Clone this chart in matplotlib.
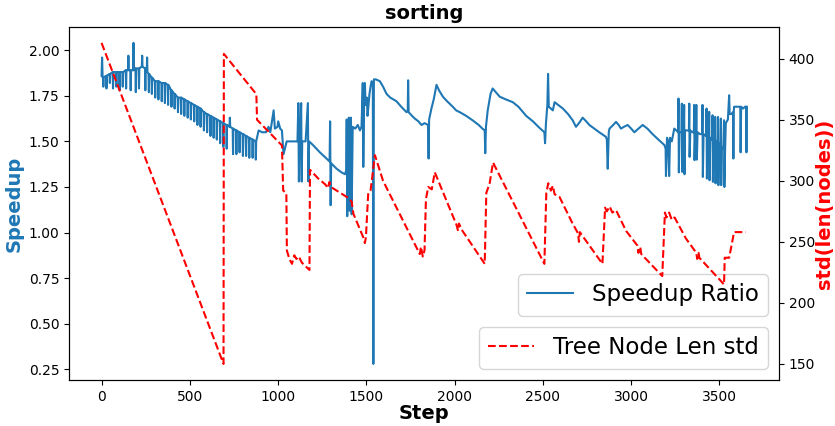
import matplotlib
matplotlib.use("Agg")
import matplotlib.pyplot as plt

# speedup ratio per step: a baseline with narrow spikes
speed_step = [0, 3, 6,
              8, 10, 12, 26, 28, 30, 45, 47, 49, 63, 65, 67, 82, 84, 86, 100, 102, 104,
              118, 120, 122, 137, 139, 141, 150, 152, 154, 163, 165, 167, 179, 181, 183,
              192, 194, 196, 210, 212, 214, 228, 230, 232, 246, 248, 250, 256, 258, 260,
              266, 268, 270, 283, 285, 287, 302, 304, 306, 320, 322, 324, 339, 341, 343,
              357, 359, 361, 375, 377, 379, 394, 396, 398, 412, 414, 416, 431, 433, 435,
              449, 451, 453, 467, 469, 471, 486, 488, 490, 504, 506, 508, 523, 525, 527,
              541, 543, 545, 559, 561, 563, 578, 580, 582, 596, 598, 600, 615, 617, 619,
              633, 635, 637, 651, 653, 655, 670, 672, 674, 688, 690, 692, 707, 709, 711,
              725, 727, 729, 743, 745, 747, 762, 764, 766, 780, 782, 784, 799, 801, 803,
              817, 819, 821, 835, 837, 839, 854, 856, 858, 872, 874, 876,
              890, 910, 931, 946, 956, 975, 982, 997, 1001, 1012, 1022, 1031, 1049, 1069, 1084,
              1110, 1115, 1118, 1123, 1131, 1134, 1137, 1156, 1169, 1172, 1176, 1198, 1237, 1276,
              1292, 1295, 1298, 1301, 1332, 1360, 1379,
              1386, 1389, 1392, 1397, 1401, 1405, 1409, 1413, 1417, 1423, 1437, 1452, 1464, 1473,
              1480, 1483, 1488, 1492, 1496, 1503, 1507, 1511, 1518, 1524, 1530, 1537, 1540, 1543,
              1554, 1577, 1595, 1615, 1636, 1671, 1698, 1728, 1735, 1737, 1740, 1759, 1775, 1795,
              1813, 1830, 1850, 1853, 1856, 1869, 1882, 1898, 1912, 1934, 1958, 1990, 2009, 2030,
              2066, 2103, 2137, 2158, 2171, 2174, 2178, 2188, 2204, 2216, 2234,
              2256, 2291, 2330, 2362, 2406, 2444, 2475, 2509, 2513, 2518, 2526, 2530, 2534, 2546,
              2557, 2567, 2587, 2614, 2643, 2670, 2688, 2705, 2726, 2746, 2764, 2792, 2820, 2858,
              2863, 2868, 2874, 2878, 2899, 2915, 2930, 2943, 2960, 2981, 3001, 3019, 3042, 3066,
              3093, 3122, 3155,
              3189, 3196, 3198, 3204, 3211, 3216, 3221, 3231, 3245, 3257, 3267, 3269, 3271, 3275,
              3286, 3288, 3290, 3293, 3299, 3301, 3303, 3306, 3318, 3328, 3330, 3332, 3336, 3349,
              3356, 3358, 3360, 3364, 3368, 3370, 3373, 3377, 3390, 3403, 3405, 3407, 3411, 3425,
              3428, 3430, 3434, 3441, 3443, 3445, 3449, 3459, 3462, 3464, 3468, 3475, 3477, 3479,
              3483, 3491, 3493, 3495, 3499, 3507, 3509, 3511, 3515, 3523, 3527, 3529, 3533, 3537,
              3549, 3556, 3559, 3569, 3578, 3580, 3582, 3584, 3600, 3615, 3619, 3621, 3624, 3635,
              3646, 3652, 3654, 3656]
speed_val = [1.86, 1.96, 1.85,
             1.85, 1.80, 1.85, 1.86, 1.79, 1.86, 1.87, 1.82, 1.87, 1.88, 1.79, 1.88, 1.88, 1.80, 1.88, 1.88, 1.78, 1.88,
             1.88, 1.80, 1.88, 1.89, 1.79, 1.89, 1.89, 1.97, 1.89, 1.89, 1.78, 1.89, 1.89, 2.04, 1.89,
             1.90, 1.77, 1.90, 1.90, 1.79, 1.90, 1.91, 1.97, 1.91, 1.90, 1.78, 1.90, 1.88, 1.96, 1.88,
             1.87, 1.77, 1.87, 1.85, 1.76, 1.85, 1.83, 1.74, 1.83, 1.83, 1.73, 1.83, 1.82, 1.72, 1.82,
             1.82, 1.71, 1.82, 1.81, 1.70, 1.81, 1.78, 1.69, 1.78, 1.76, 1.68, 1.76, 1.74, 1.66, 1.74,
             1.74, 1.65, 1.74, 1.73, 1.64, 1.73, 1.72, 1.63, 1.72, 1.71, 1.62, 1.71, 1.70, 1.61, 1.70,
             1.69, 1.59, 1.69, 1.68, 1.58, 1.68, 1.66, 1.56, 1.66, 1.65, 1.55, 1.65, 1.64, 1.53, 1.64,
             1.63, 1.52, 1.63, 1.62, 1.51, 1.62, 1.61, 1.49, 1.61, 1.60, 1.47, 1.60, 1.59, 1.46, 1.59,
             1.58, 1.63, 1.58, 1.57, 1.43, 1.57, 1.56, 1.43, 1.56, 1.55, 1.44, 1.55, 1.54, 1.42, 1.54,
             1.53, 1.42, 1.53, 1.52, 1.41, 1.52, 1.51, 1.41, 1.51, 1.50, 1.40, 1.50,
             1.56, 1.55, 1.55, 1.58, 1.55, 1.67, 1.57, 1.58, 1.61, 1.57, 1.56, 1.43, 1.50, 1.50, 1.50,
             1.50, 1.71, 1.28, 1.50, 1.71, 1.28, 1.50, 1.50, 1.71, 1.28, 1.50, 1.48, 1.44, 1.405,
             1.39, 1.61, 1.15, 1.38, 1.35, 1.33, 1.32,
             1.34, 1.62, 1.09, 1.36, 1.63, 1.12, 1.55, 1.63, 1.10, 1.58, 1.57, 1.59, 1.56, 1.58,
             1.82, 1.36, 1.73, 1.82, 1.70, 1.74, 1.64, 1.68, 1.76, 1.80, 1.83, 1.82, 0.28, 1.84,
             1.84, 1.83, 1.80, 1.76, 1.74, 1.72, 1.69, 1.66, 1.67, 1.835, 1.66, 1.64, 1.625, 1.61,
             1.59, 1.60, 1.59, 1.406, 1.62, 1.68, 1.73, 1.81, 1.78, 1.745, 1.72, 1.69, 1.67, 1.66,
             1.64, 1.615, 1.59, 1.57, 1.56, 1.435, 1.58, 1.67, 1.76, 1.79, 1.77,
             1.745, 1.73, 1.715, 1.69, 1.64, 1.61, 1.58, 1.55, 1.49, 1.60, 1.70, 1.87, 1.69, 1.68,
             1.67, 1.715, 1.70, 1.68, 1.65, 1.615, 1.58, 1.60, 1.63, 1.61, 1.59, 1.57, 1.55, 1.525,
             1.51, 1.35, 1.55, 1.57, 1.59, 1.607, 1.59, 1.57, 1.58, 1.59, 1.57, 1.55, 1.57, 1.59,
             1.57, 1.54, 1.51,
             1.48, 1.46, 1.31, 1.52, 1.50, 1.31, 1.52, 1.50, 1.57, 1.56, 1.55, 1.735, 1.33, 1.55,
             1.55, 1.707, 1.333, 1.55, 1.56, 1.70, 1.32, 1.56, 1.56, 1.56, 1.707, 1.415, 1.56, 1.55,
             1.55, 1.70, 1.397, 1.55, 1.55, 1.70, 1.40, 1.55, 1.54, 1.54, 1.70, 1.305, 1.54, 1.53,
             1.68, 1.296, 1.53, 1.525, 1.662, 1.287, 1.52, 1.51, 1.643, 1.278, 1.51, 1.50, 1.634, 1.27,
             1.50, 1.49, 1.634, 1.26, 1.49, 1.48, 1.625, 1.26, 1.47, 1.46, 1.616, 1.25, 1.45, 1.60,
             1.62, 1.753, 1.65, 1.65, 1.66, 1.406, 1.66, 1.69, 1.69, 1.69, 1.69, 1.44, 1.69, 1.68,
             1.69, 1.69, 1.44, 1.69]

# std of tree node lengths
std_step = [0, 691, 693, 877, 881, 1022, 1029, 1047, 1050, 1064, 1079, 1092, 1104, 1117, 1135, 1156, 1178,
            1181, 1227, 1268, 1283, 1291, 1299, 1398, 1417, 1427, 1482, 1492, 1498, 1511, 1524, 1531,
            1549, 1595, 1803, 1810, 1820, 1830, 1838, 1851, 1871, 1888, 2011, 2020, 2025, 2045, 2171,
            2180, 2199, 2218, 2509, 2520, 2531, 2546, 2557, 2567, 2594, 2669, 2700, 2705, 2710, 2838,
            2853, 2863, 2879, 2894, 2915, 2972, 3036, 3042, 3052, 3058, 3177, 3192, 3201, 3216, 3231,
            3247, 3310, 3370, 3375, 3383, 3387, 3509, 3527, 3531, 3556, 3584, 3651]
std_val = [413, 150, 404, 371, 350, 329, 292, 290, 243, 236, 232, 239, 236, 238, 233, 230, 227,
           309, 302, 297, 294, 299, 295, 286, 283, 273, 254, 249, 254, 290, 292, 300,
           321, 300, 240, 246, 238, 243, 285, 295, 293, 307, 264, 259, 265, 259, 232,
           290, 298, 315, 232, 290, 298, 292, 296, 289, 287, 265, 257, 250, 258, 232,
           278, 275, 279, 274, 276, 259, 247, 241, 246, 240, 222, 274, 270, 274, 268,
           270, 253, 241, 236, 241, 237, 218, 215, 237, 237, 258, 258]

fig = plt.figure(figsize=(8.35, 4.26), dpi=100)
ax = fig.add_axes([0.083, 0.108, 0.85, 0.829])
ax.plot(speed_step, speed_val, color="#1f77b4", lw=1.5, label="Speedup Ratio")
ax.set_xlabel("Step", fontsize=14, fontweight="bold", labelpad=0.5)
ax.set_ylabel("Speedup", fontsize=14, fontweight="bold", color="#1f77b4")
ax.set_title("sorting", fontsize=14, fontweight="bold")

ax2 = ax.twinx()
ax2.plot(std_step, std_val, "r--", lw=1.5, label="Tree Node Len std")
ax2.set_ylabel("std(len(nodes))", fontsize=14, fontweight="bold", color="red", labelpad=0)

ax.legend(loc="lower right", bbox_to_anchor=(1, 0.15), fontsize=16.5)
ax2.legend(loc="lower right", fontsize=16.5)

plt.savefig("out.png", dpi=100)
